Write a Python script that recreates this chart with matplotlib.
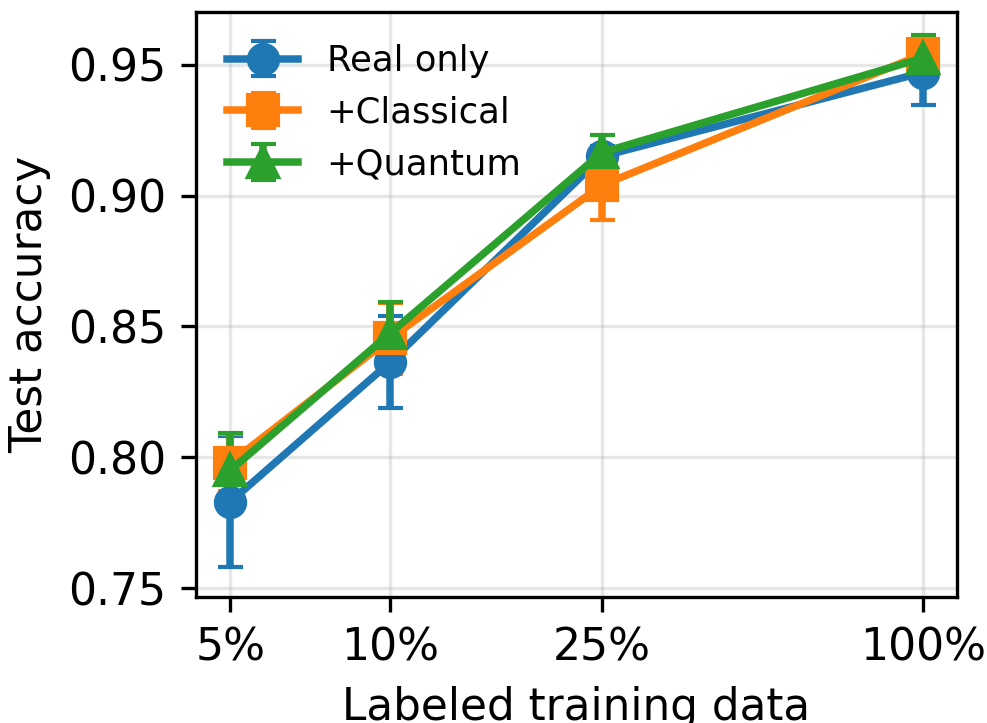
import numpy as np
import matplotlib
matplotlib.use("Agg")
import matplotlib.pyplot as plt

fractions = [5, 10, 25, 100]
tick_labels = ["5%", "10%", "25%", "100%"]

real_mean = [0.783, 0.8365, 0.915, 0.947]
real_err = [0.025, 0.0175, 0.004, 0.0125]

classical_mean = [0.798, 0.8455, 0.904, 0.954]
classical_err = [0.011, 0.0135, 0.0135, 0.006]

quantum_mean = [0.795, 0.8475, 0.9165, 0.9525]
quantum_err = [0.0145, 0.012, 0.0065, 0.0088]

fig, ax = plt.subplots(figsize=(3.293, 2.41), dpi=300)

ax.errorbar(fractions, real_mean, yerr=real_err, marker='o', capsize=3,
            lw=1.8, ms=7, label='Real only')
ax.errorbar(fractions, classical_mean, yerr=classical_err, marker='s', capsize=3,
            lw=1.8, ms=7, label='+Classical')
ax.errorbar(fractions, quantum_mean, yerr=quantum_err, marker='^', capsize=3,
            lw=1.8, ms=7, label='+Quantum')

ax.set_xscale('log')
ax.set_xticks(fractions)
ax.set_xticklabels(tick_labels)
ax.minorticks_off()
ax.set_yticks([0.75, 0.80, 0.85, 0.90, 0.95])
ax.set_ylim(0.7466, 0.970)
ax.tick_params(labelsize=10.6)
ax.set_xlabel('Labeled training data', fontsize=10.5)
ax.set_ylabel('Test accuracy', fontsize=10.5)
ax.grid(True, alpha=0.3)
ax.legend(frameon=False, fontsize=8.5, loc='upper left')

fig.subplots_adjust(left=0.198, right=0.969, top=0.983, bottom=0.174)
fig.savefig('out.png', dpi=300)
